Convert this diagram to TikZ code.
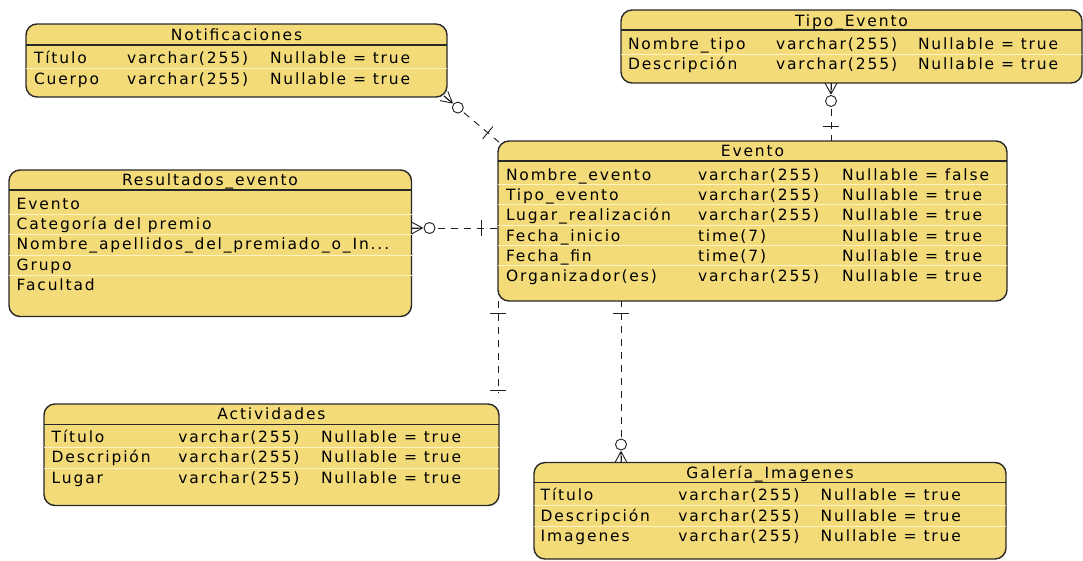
\documentclass[tikz,border=0pt]{standalone}
\usepackage{fontspec}
\setmainfont{DejaVu Sans}[LetterSpace=12]
\usetikzlibrary{calc}
\definecolor{entfill}{RGB}{243,219,122}
\definecolor{entline}{RGB}{40,40,40}
\definecolor{rowsep}{RGB}{253,243,196}
\definecolor{conn}{RGB}{30,30,30}
\tikzset{
  entity/.style={draw=entline, fill=entfill, line width=1.4pt, rounded corners=11pt,
    inner sep=0pt, outer sep=0pt, anchor=north west},
  hdrline/.style={draw=entline, line width=1.4pt},
  sepline/.style={draw=rowsep, line width=1pt},
  cell/.style={anchor=base west, inner sep=0pt, outer sep=0pt,
    font=\fontsize{15.5}{18}\selectfont, text=black},
  title/.style={cell, anchor=base},
  rel/.style={draw=conn, line width=0.9pt, dash pattern=on 7pt off 6pt},
  crowmark/.style={draw=conn, line width=0.9pt}
}
\newcommand\crowend[2]{%
  \draw[crowmark] ($(#1)!11pt!(#2)$) -- ($(#1)!6pt!90:(#2)$)
                  ($(#1)!11pt!(#2)$) -- (#1)
                  ($(#1)!11pt!(#2)$) -- ($(#1)!6pt!-90:(#2)$);
  \draw[crowmark, fill=white] ($(#1)!18pt!(#2)$) circle[radius=5.5pt];
}
\newcommand\barend[3]{%
  \coordinate (bp) at ($(#1)!#3!(#2)$);
  \draw[crowmark] ($(bp)!8pt!90:(#2)$) -- ($(bp)!8pt!-90:(#2)$);
}
\begin{document}
\begin{tikzpicture}[x=1pt, y=-1pt]
\useasboundingbox (0,0) rectangle (1083,560);

% ---------- Notificaciones ----------
\node[entity, minimum width=421pt, minimum height=73pt] (notif) at (26,24) {};
\draw[sepline] (26,68) -- (447,68);
\draw[hdrline] (26,45) -- (447,45);
\node[title] (notifT) at (236.5,40) {Notificaciones};
\node[cell] (notif11) at (34,63) {Título};
\node[cell] (notif12) at (127,63) {varchar(255)};
\node[cell] (notif13) at (270,63) {Nullable = true};
\node[cell] (notif21) at (34,84) {Cuerpo};
\node[cell] (notif22) at (127,84) {varchar(255)};
\node[cell] (notif23) at (270,84) {Nullable = true};

% ---------- Tipo_Evento ----------
\node[entity, minimum width=461pt, minimum height=73pt] (tipo) at (621,10) {};
\draw[sepline] (621,54) -- (1082,54);
\draw[hdrline] (621,30) -- (1082,30);
\node[title] (tipoT) at (851.5,26.5) {Tipo\_Evento};
\node[cell] (tipo11) at (628,49) {Nombre\_tipo};
\node[cell] (tipo12) at (776,49) {varchar(255)};
\node[cell] (tipo13) at (918,49) {Nullable = true};
\node[cell] (tipo21) at (628,69.5) {Descripción};
\node[cell] (tipo22) at (776,69.5) {varchar(255)};
\node[cell] (tipo23) at (918,69.5) {Nullable = true};

% ---------- Evento ----------
\node[entity, minimum width=509pt, minimum height=160pt] (evt) at (498,141) {};
\foreach \yy in {184.3,204.7,225,245.3,265.7} \draw[sepline] (498,\yy) -- (1007,\yy);
\draw[hdrline] (498,161) -- (1007,161);
\node[title] (evtT) at (752.5,156.5) {Evento};
\node[cell] (evt11) at (506,180) {Nombre\_evento};
\node[cell] (evt12) at (698,180) {varchar(255)};
\node[cell] (evt13) at (842,180) {Nullable = false};
\node[cell] (evt21) at (506,200.3) {Tipo\_evento};
\node[cell] (evt22) at (698,200.3) {varchar(255)};
\node[cell] (evt23) at (842,200.3) {Nullable = true};
\node[cell] (evt31) at (506,220.7) {Lugar\_realización};
\node[cell] (evt32) at (698,220.7) {varchar(255)};
\node[cell] (evt33) at (842,220.7) {Nullable = true};
\node[cell] (evt41) at (506,241) {Fecha\_inicio};
\node[cell] (evt42) at (698,241) {time(7)};
\node[cell] (evt43) at (842,241) {Nullable = true};
\node[cell] (evt51) at (506,261.3) {Fecha\_fin};
\node[cell] (evt52) at (698,261.3) {time(7)};
\node[cell] (evt53) at (842,261.3) {Nullable = true};
\node[cell] (evt61) at (506,281.7) {Organizador(es)};
\node[cell] (evt62) at (698,281.7) {varchar(255)};
\node[cell] (evt63) at (842,281.7) {Nullable = true};

% ---------- Resultados_evento ----------
\node[entity, minimum width=402.5pt, minimum height=146.5pt] (res) at (9,170) {};
\foreach \yy in {214.3,234.7,255,275.3} \draw[sepline] (9,\yy) -- (411.5,\yy);
\draw[hdrline] (9,190) -- (411.5,190);
\node[title] (resT) at (210,185.5) {Resultados\_evento};
\node[cell] (res1) at (16.7,209) {Evento};
\node[cell] (res2) at (16.7,229.3) {Categoría del premio};
\node[cell] (res3) at (16.7,249.7) {Nombre\_apellidos\_del\_premiado\_o\_In...};
\node[cell] (res4) at (16.7,270) {Grupo};
\node[cell] (res5) at (16.7,290.3) {Facultad};

% ---------- Actividades ----------
\node[entity, minimum width=455pt, minimum height=101.5pt] (act) at (44,404) {};
\foreach \yy in {447.7,468} \draw[sepline] (44,\yy) -- (499,\yy);
\draw[hdrline] (44,424.3) -- (499,424.3);
\node[title] (actT) at (271.5,419) {Actividades};
\node[cell] (act11) at (51.7,442.3) {Título};
\node[cell] (act12) at (178.3,442.3) {varchar(255)};
\node[cell] (act13) at (321,442.3) {Nullable = true};
\node[cell] (act21) at (51.7,462.7) {Descripión};
\node[cell] (act22) at (178.3,462.7) {varchar(255)};
\node[cell] (act23) at (321,462.7) {Nullable = true};
\node[cell] (act31) at (51.7,483) {Lugar};
\node[cell] (act32) at (178.3,483) {varchar(255)};
\node[cell] (act33) at (321,483) {Nullable = true};

% ---------- Galería_Imagenes ----------
\node[entity, minimum width=472pt, minimum height=96.5pt] (gal) at (534,462.5) {};
\foreach \yy in {505.7,526} \draw[sepline] (534,\yy) -- (1006,\yy);
\draw[hdrline] (534,482.7) -- (1006,482.7);
\node[title] (galT) at (770,478.3) {Galería\_Imagenes};
\node[cell] (gal11) at (540.7,500.7) {Título};
\node[cell] (gal12) at (678.3,500.7) {varchar(255)};
\node[cell] (gal13) at (820.7,500.7) {Nullable = true};
\node[cell] (gal21) at (540.7,521) {Descripción};
\node[cell] (gal22) at (678.3,521) {varchar(255)};
\node[cell] (gal23) at (820.7,521) {Nullable = true};
\node[cell] (gal31) at (540.7,541.3) {Imagenes};
\node[cell] (gal32) at (678.3,541.3) {varchar(255)};
\node[cell] (gal33) at (820.7,541.3) {Nullable = true};

% ---------- connector end points ----------
\coordinate (nA) at ($(notif.south east)+(-3,-1)$);
\coordinate (nB) at ($(evt.north west)+(2,2)$);
\coordinate (tA) at ($(tipo.south west)+(210,0)$);
\coordinate (tB) at ($(evt.north west)+(333,0)$);
\coordinate (rA) at ($(res.north east)+(0,58)$);
\coordinate (rB) at ($(evt.north west)+(0,87)$);
\coordinate (aA) at (evt.south west);
\coordinate (aB) at ($(act.north east)+(-1,-11)$);
\coordinate (gA) at ($(gal.north west)+(87,0)$);
\coordinate (gB) at ($(evt.south west)+(123,0)$);

% ---------- connectors ----------
\draw[rel] (nA) -- (nB);
\draw[rel] (tA) -- (tB);
\draw[rel] (rA) -- (rB);
\draw[rel] (aA) -- (aB);
\draw[rel] (gA) -- (gB);

\crowend{nA}{nB}
\barend{nB}{nA}{16pt}
\crowend{tA}{tB}
\barend{tB}{tA}{15pt}
\crowend{rA}{rB}
\barend{rB}{rA}{17pt}
\barend{aA}{aB}{12pt}
\barend{aB}{aA}{3pt}
\crowend{gA}{gB}
\barend{gB}{gA}{12pt}
\end{tikzpicture}
\end{document}
